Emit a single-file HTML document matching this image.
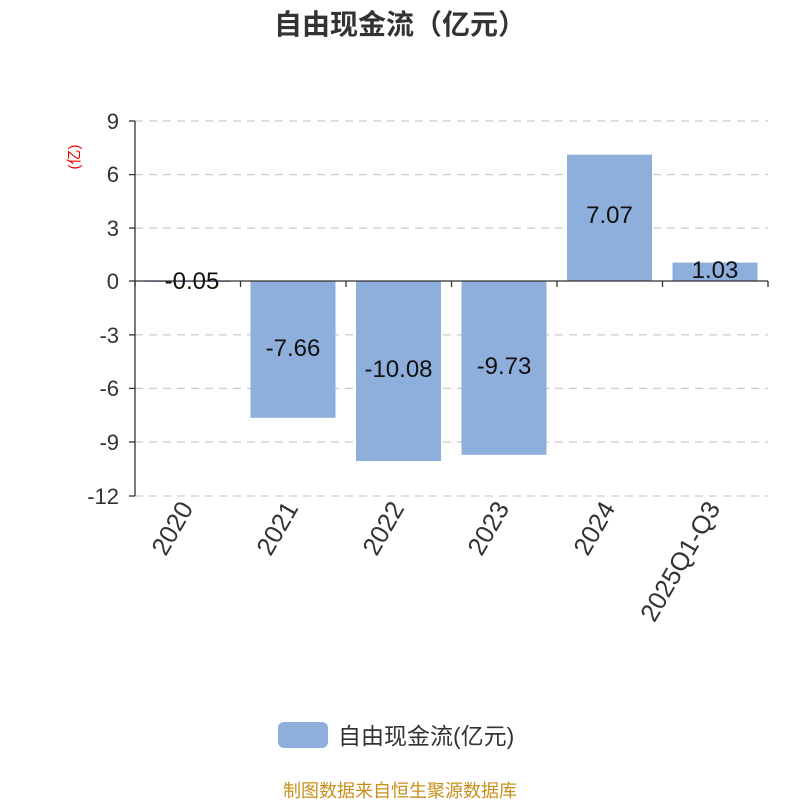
<!DOCTYPE html>
<html><head><meta charset="utf-8"><style>body{margin:0;background:#fff}</style></head><body>
<svg width="800" height="800" xmlns="http://www.w3.org/2000/svg" font-family="'Liberation Sans','Noto Sans CJK SC',sans-serif">
<rect width="800" height="800" fill="#fff"/>
<text x="400" y="34" text-anchor="middle" font-size="28" font-weight="bold" fill="#333">自由现金流（亿元）</text>
<text transform="translate(79,157) rotate(-90)" text-anchor="middle" font-size="15" fill="#e00">(亿)</text>
<g stroke="#ccc" stroke-dasharray="8,6" stroke-width="1.3">
<line x1="135" x2="768" y1="121" y2="121"/><line x1="135" x2="768" y1="174.6" y2="174.6"/>
<line x1="135" x2="768" y1="228.1" y2="228.1"/><line x1="135" x2="768" y1="334.9" y2="334.9"/>
<line x1="135" x2="768" y1="388.4" y2="388.4"/><line x1="135" x2="768" y1="442" y2="442"/>
<line x1="135" x2="768" y1="496" y2="496"/>
</g>
<g fill="#8eaedb">
<rect x="145" y="281" width="85" height="1"/>
<rect x="250.5" y="281" width="85" height="136.8"/>
<rect x="356" y="281" width="85" height="180"/>
<rect x="461.5" y="281" width="85" height="173.8"/>
<rect x="567" y="154.7" width="85" height="126.3"/>
<rect x="672.5" y="262.6" width="85" height="18.4"/>
</g>
<g stroke="#333" stroke-width="1.3">
<line x1="135" x2="135" y1="121" y2="496"/>
<line x1="129" x2="135" y1="121" y2="121"/><line x1="129" x2="135" y1="174.6" y2="174.6"/>
<line x1="129" x2="135" y1="228.1" y2="228.1"/><line x1="129" x2="135" y1="281" y2="281"/>
<line x1="129" x2="135" y1="334.9" y2="334.9"/><line x1="129" x2="135" y1="388.4" y2="388.4"/>
<line x1="129" x2="135" y1="442" y2="442"/><line x1="129" x2="135" y1="496" y2="496"/>
<line x1="135" x2="768" y1="281" y2="281"/>
<line x1="135" x2="135" y1="281" y2="287"/><line x1="240.5" x2="240.5" y1="281" y2="287"/>
<line x1="346" x2="346" y1="281" y2="287"/><line x1="451.5" x2="451.5" y1="281" y2="287"/>
<line x1="557" x2="557" y1="281" y2="287"/><line x1="662.5" x2="662.5" y1="281" y2="287"/>
<line x1="768" x2="768" y1="281" y2="287"/>
</g>
<g font-size="22" fill="#333" text-anchor="end">
<text x="119" y="129">9</text><text x="119" y="182">6</text><text x="119" y="236">3</text>
<text x="119" y="289">0</text><text x="119" y="343">-3</text><text x="119" y="396">-6</text>
<text x="119" y="450">-9</text><text x="119" y="504">-12</text>
</g>
<g font-size="24" fill="#111" text-anchor="middle">
<text x="192" y="289">-0.05</text><text x="293" y="356">-7.66</text>
<text x="398.5" y="377">-10.08</text><text x="504" y="374">-9.73</text>
<text x="609.5" y="223">7.07</text><text x="715" y="278">1.03</text>
</g>
<g font-size="25.5" fill="#333" text-anchor="end">
<text transform="translate(194,508) rotate(-60)">2020</text>
<text transform="translate(299,508) rotate(-60)">2021</text>
<text transform="translate(405,508) rotate(-60)">2022</text>
<text transform="translate(510,508) rotate(-60)">2023</text>
<text transform="translate(616,508) rotate(-60)">2024</text>
<text transform="translate(721,508) rotate(-60)">2025Q1-Q3</text>
</g>
<rect x="278" y="722" width="50" height="26" rx="6" fill="#8eaedb"/>
<text x="338" y="744" font-size="23" fill="#333">自由现金流(亿元)</text>
<text x="400" y="797" text-anchor="middle" font-size="18" fill="#c8901a">制图数据来自恒生聚源数据库</text>
</svg>
</body></html>
